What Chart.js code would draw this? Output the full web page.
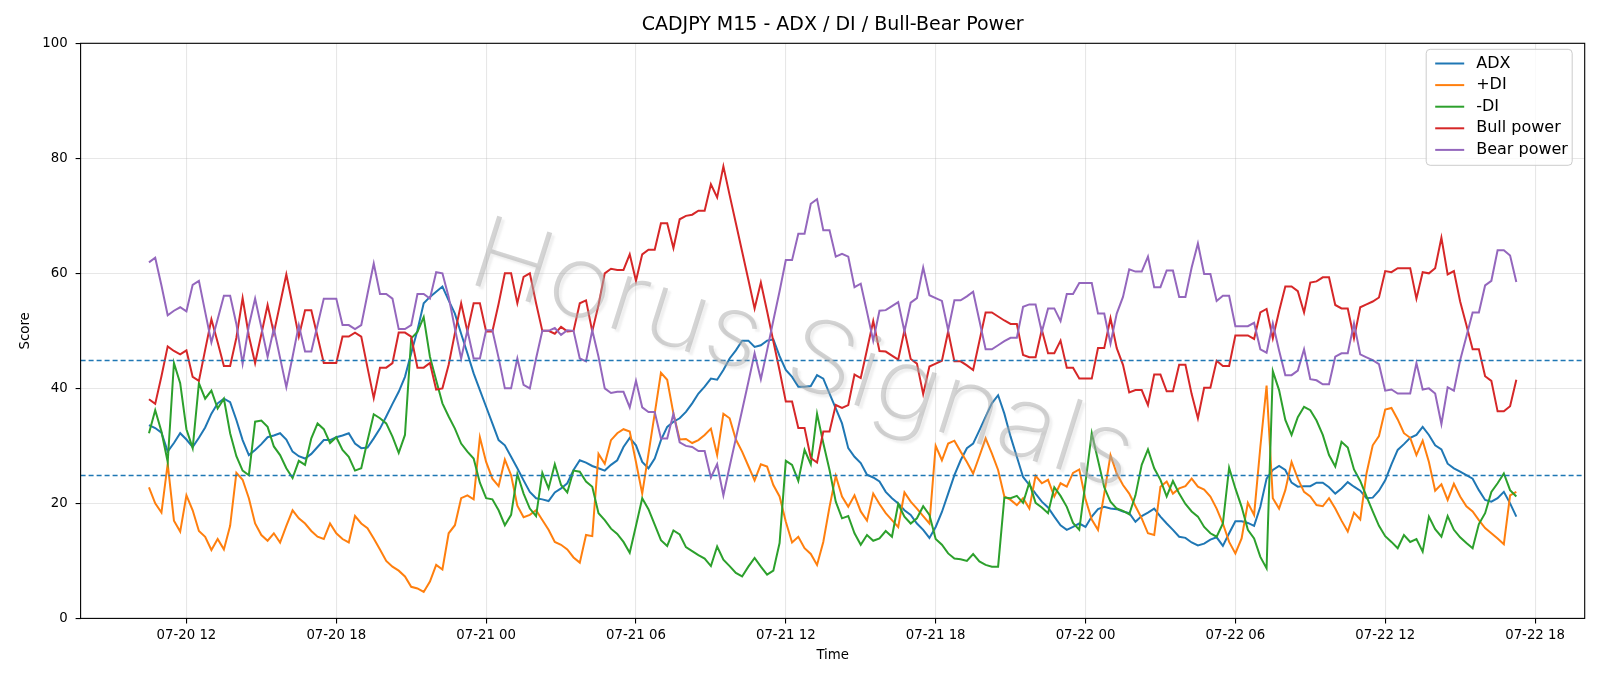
<!DOCTYPE html>
<html>
<head>
<meta charset="utf-8">
<title>CADJPY M15 - ADX / DI / Bull-Bear Power</title>
<script src="https://cdn.jsdelivr.net/npm/chart.js@4.4.1/dist/chart.umd.min.js"></script>
<style>
  html, body { margin: 0; padding: 0; background: #fff; }
  canvas { display: block; }
</style>
</head>
<body>
<canvas id="chart" width="1600" height="686"></canvas>
<script>
// first bar of the series and bar length (M15)
const startTime = '07-20 10:30';
const stepMinutes = 15;

const adx = [
  33.6, 33.1, 32.3, 29.0, 30.5, 32.2, 31.1, 29.8, 31.4, 33.2, 35.6, 37.4, 38.2, 37.6, 34.5, 31.0, 28.4, 29.3, 30.3,
  31.5, 31.8, 32.2, 31.1, 29.0, 28.2, 27.8, 28.6, 29.8, 31.0, 31.0, 31.5, 31.8, 32.2, 30.4, 29.6, 29.7, 31.3,
  33.0, 35.1, 37.3, 39.4, 42.0, 46.1, 50.1, 54.8, 55.9, 56.8, 57.7, 55.3, 53.0, 49.5, 46.1, 42.6, 39.7, 36.8, 33.9,
  31.0, 30.1, 28.1, 26.1, 24.0, 22.0, 20.9, 20.7, 20.4, 21.9, 22.6, 23.5, 25.8, 27.5, 27.1, 26.5, 26.1, 25.7, 26.7,
  27.5, 29.8, 31.4, 30.1, 27.2, 26.1, 27.8, 31.0, 33.3, 34.2, 34.8, 35.9, 37.4, 39.1, 40.3, 41.7, 41.5, 43.2,
  45.2, 46.6, 48.3, 48.3, 47.2, 47.5, 48.3, 48.5, 45.6, 43.2, 42.0, 40.3, 40.3, 40.4, 42.3, 41.7, 39.1, 36.5, 33.9,
  29.6, 28.1, 27.0, 25.0, 24.5, 23.8, 22.0, 20.9, 20.0, 18.8, 18.0, 16.5, 15.4, 14.0, 15.9, 18.5, 21.7, 24.9,
  27.5, 29.6, 30.4, 32.7, 35.1, 37.4, 38.8, 35.6, 31.6, 28.1, 24.6, 23.2, 21.7, 20.3, 19.3, 17.7, 16.2, 15.4, 15.9,
  16.5, 15.9, 17.7, 19.0, 19.4, 19.1, 19.0, 18.6, 18.3, 16.8, 17.8, 18.4, 19.1, 17.7, 16.5, 15.4, 14.2, 14.0, 13.2,
  12.7, 13.0, 13.7, 14.1, 12.6, 14.8, 16.9, 16.9, 16.6, 16.1, 19.4, 24.3, 25.8, 26.5, 25.8, 23.6, 22.9, 23.0,
  23.0, 23.6, 23.6, 22.8, 21.7, 22.6, 23.7, 22.9, 22.2, 20.9, 21.0, 22.2, 24.0, 26.8, 29.3, 30.3, 31.4, 31.9, 33.3,
  31.9, 30.1, 29.4, 26.9, 26.1, 25.5, 24.9, 24.3, 22.3, 20.6, 20.3, 20.9, 22.0, 20.0, 17.7
];

const plusDI = [
  22.8, 20.0, 18.4, 26.9, 17.0, 15.1, 21.4, 18.8, 15.2, 14.2, 11.9, 13.8, 12.0, 16.1, 25.3, 24.1, 20.9, 16.5, 14.5,
  13.5, 14.8, 13.2, 16.1, 18.8, 17.4, 16.5, 15.2, 14.2, 13.8, 16.5, 14.8, 13.8, 13.2, 17.8, 16.5, 15.7, 13.9,
  12.0, 10.0, 9.0, 8.3, 7.3, 5.5, 5.2, 4.6, 6.4, 9.3, 8.5, 14.8, 16.2, 20.9, 21.4, 20.7, 31.5, 27.2, 24.3,
  23.0, 27.6, 24.9, 19.6, 17.6, 18.0, 18.8, 17.1, 15.4, 13.3, 12.8, 12.0, 10.6, 9.7, 14.5, 14.3, 28.6, 26.9, 31.0,
  32.2, 32.9, 32.5, 27.2, 21.7, 28.6, 35.6, 42.7, 41.5, 35.6, 31.1, 31.2, 30.5, 31.0, 31.9, 33.0, 28.4, 35.6,
  34.8, 31.1, 29.0, 26.5, 24.0, 26.8, 26.4, 23.2, 21.2, 16.8, 13.2, 14.2, 12.2, 11.2, 9.3, 13.3, 19.4, 24.8, 21.2,
  19.4, 21.4, 18.6, 17.0, 21.7, 19.9, 18.3, 17.1, 15.9, 21.9, 20.3, 19.1, 17.8, 16.5, 30.0, 27.5, 30.4, 30.9,
  29.0, 27.2, 25.2, 28.2, 31.3, 28.7, 25.8, 21.2, 20.6, 19.7, 20.9, 19.1, 24.8, 23.5, 24.1, 21.2, 23.5, 22.9, 25.3,
  25.9, 20.7, 17.2, 15.4, 21.7, 28.4, 25.2, 23.2, 21.7, 19.5, 17.4, 14.8, 14.5, 22.9, 23.8, 21.7, 22.6, 23.0, 24.3,
  22.9, 22.4, 21.2, 19.1, 16.5, 13.3, 11.3, 13.9, 20.1, 18.0, 29.8, 40.5, 20.9, 19.1, 22.3, 27.2, 24.3, 22.0,
  21.2, 19.7, 19.5, 20.9, 19.1, 17.0, 15.1, 18.4, 17.2, 25.2, 30.1, 31.7, 36.3, 36.6, 34.6, 32.2, 31.4, 28.4, 30.9,
  27.2, 22.2, 23.3, 20.6, 23.4, 21.2, 19.5, 18.6, 17.1, 15.7, 14.8, 13.9, 12.9, 21.4, 22.0
];

const minusDI = [
  32.2, 36.2, 32.5, 27.2, 44.4, 40.9, 32.9, 29.6, 40.9, 38.2, 39.6, 36.5, 38.2, 32.2, 28.2, 25.7, 24.9, 34.2, 34.4,
  33.3, 29.9, 28.4, 26.1, 24.4, 27.4, 26.7, 31.3, 33.9, 32.9, 30.5, 31.5, 29.3, 28.1, 25.7, 26.1, 30.9, 35.5,
  34.8, 33.9, 31.6, 28.8, 31.9, 48.7, 49.8, 52.4, 45.5, 41.4, 37.4, 35.1, 33.0, 30.4, 29.0, 27.8, 23.6, 20.9, 20.7,
  18.8, 16.2, 18.0, 25.1, 21.7, 19.1, 17.8, 25.3, 22.6, 26.8, 23.2, 21.9, 25.7, 25.5, 23.8, 22.9, 18.3, 17.1, 15.6,
  14.7, 13.3, 11.4, 16.1, 20.9, 19.0, 16.3, 13.6, 12.6, 15.3, 14.6, 12.4, 11.7, 11.0, 10.4, 9.1, 12.5, 10.2,
  9.1, 7.9, 7.3, 9.0, 10.5, 9.0, 7.6, 8.3, 13.1, 27.4, 26.7, 23.9, 29.3, 26.8, 35.6, 30.5, 25.8, 20.3, 17.4,
  17.8, 14.8, 12.8, 14.5, 13.5, 13.9, 15.2, 14.2, 19.9, 17.7, 16.5, 17.4, 19.5, 18.0, 13.8, 12.8, 11.3, 10.4,
  10.3, 10.0, 11.2, 9.9, 9.3, 9.0, 9.0, 21.0, 20.9, 21.3, 20.1, 23.6, 20.1, 19.3, 18.3, 22.8, 21.3, 19.4, 16.6,
  15.4, 23.7, 32.2, 27.5, 22.8, 20.3, 19.1, 18.7, 18.1, 21.4, 26.7, 29.4, 26.1, 24.1, 21.2, 23.9, 21.7, 19.9, 18.6,
  17.7, 15.9, 14.8, 14.2, 16.5, 26.2, 22.6, 19.4, 15.4, 13.9, 10.7, 8.7, 43.0, 39.7, 34.5, 31.9, 35.0, 36.8,
  36.2, 34.4, 31.9, 28.4, 26.4, 30.7, 29.7, 25.9, 23.9, 21.2, 18.6, 16.1, 14.3, 13.3, 12.2, 14.5, 13.3, 13.8, 11.6,
  17.7, 15.5, 14.2, 17.8, 15.4, 14.1, 13.1, 12.2, 16.4, 18.3, 22.0, 23.5, 25.2, 22.3, 21.2
];

const bullPower = [
  38.1, 37.3, 42.1, 47.3, 46.5, 45.9, 46.6, 42.0, 41.3, 46.7, 52.0, 48.0, 43.9, 43.9, 48.8, 55.7, 49.1, 44.4, 49.4,
  54.5, 49.6, 54.7, 59.8, 54.5, 49.0, 53.6, 53.6, 49.0, 44.4, 44.4, 44.4, 49.0, 49.0, 49.7, 49.0, 43.6, 38.3,
  43.6, 43.6, 44.4, 49.7, 49.7, 49.0, 43.6, 43.6, 44.4, 39.8, 40.0, 44.1, 49.6, 54.8, 49.9, 54.8, 54.8, 49.9, 49.9,
  54.7, 60.0, 60.0, 54.8, 59.4, 60.0, 54.8, 50.0, 50.0, 49.5, 50.7, 49.9, 50.0, 54.8, 55.3, 49.9, 54.5, 60.0, 60.8,
  60.6, 60.6, 63.3, 58.7, 63.3, 64.1, 64.1, 68.7, 68.7, 64.4, 69.4, 70.0, 70.2, 70.9, 70.9, 75.5, 73.2, 78.6,
  73.6, 68.7, 63.8, 58.9, 53.9, 58.4, 53.4, 48.2, 43.1, 37.7, 37.7, 33.1, 33.1, 27.9, 27.1, 32.5, 32.5, 37.1, 36.6,
  37.1, 42.4, 41.8, 46.7, 51.7, 46.5, 46.4, 45.7, 45.0, 50.1, 45.1, 44.3, 39.0, 43.8, 44.3, 44.8, 49.9, 44.7,
  44.7, 44.0, 43.2, 48.2, 53.2, 53.2, 52.5, 51.8, 51.2, 51.2, 45.8, 45.4, 45.4, 50.2, 46.1, 46.1, 48.3, 43.6, 43.6,
  41.7, 41.7, 41.7, 47.0, 47.0, 52.2, 47.0, 44.1, 39.3, 39.7, 39.7, 37.1, 42.4, 42.4, 39.5, 39.5, 44.1, 44.1, 39.0,
  34.8, 40.1, 40.1, 44.8, 43.9, 43.9, 49.2, 49.2, 49.2, 48.6, 53.2, 53.8, 48.7, 53.4, 57.7, 57.7, 56.9, 53.2,
  58.4, 58.6, 59.3, 59.3, 54.5, 53.9, 53.9, 48.7, 54.1, 54.6, 55.1, 55.8, 60.4, 60.2, 60.9, 60.9, 60.9, 55.6, 60.2,
  60.0, 60.9, 66.2, 59.8, 60.4, 55.1, 51.0, 46.8, 46.8, 42.1, 41.3, 36.0, 36.0, 36.9, 41.5
];

const bearPower = [
  61.9, 62.7, 57.9, 52.7, 53.5, 54.1, 53.4, 58.0, 58.7, 53.3, 48.0, 52.0, 56.1, 56.1, 51.2, 44.3, 50.9, 55.6, 50.6,
  45.5, 50.4, 45.3, 40.2, 45.5, 51.0, 46.4, 46.4, 51.0, 55.6, 55.6, 55.6, 51.0, 51.0, 50.3, 51.0, 56.4, 61.7,
  56.4, 56.4, 55.6, 50.3, 50.3, 51.0, 56.4, 56.4, 55.6, 60.2, 60.0, 55.9, 50.4, 45.2, 50.1, 45.2, 45.2, 50.1, 50.1,
  45.3, 40.0, 40.0, 45.2, 40.6, 40.0, 45.2, 50.0, 50.0, 50.5, 49.3, 50.1, 50.0, 45.2, 44.7, 50.1, 45.5, 40.0, 39.2,
  39.4, 39.4, 36.7, 41.3, 36.7, 35.9, 35.9, 31.3, 31.3, 35.6, 30.6, 30.0, 29.8, 29.1, 29.1, 24.5, 26.8, 21.4,
  26.4, 31.3, 36.2, 41.1, 46.1, 41.6, 46.6, 51.8, 56.9, 62.3, 62.3, 66.9, 66.9, 72.1, 72.9, 67.5, 67.5, 62.9, 63.4,
  62.9, 57.6, 58.2, 53.3, 48.3, 53.5, 53.6, 54.3, 55.0, 49.9, 54.9, 55.7, 61.0, 56.2, 55.7, 55.2, 50.1, 55.3,
  55.3, 56.0, 56.8, 51.8, 46.8, 46.8, 47.5, 48.2, 48.8, 48.8, 54.2, 54.6, 54.6, 49.8, 53.9, 53.9, 51.7, 56.4, 56.4,
  58.3, 58.3, 58.3, 53.0, 53.0, 47.8, 53.0, 55.9, 60.7, 60.3, 60.3, 62.9, 57.6, 57.6, 60.5, 60.5, 55.9, 55.9, 61.0,
  65.2, 59.9, 59.9, 55.2, 56.1, 56.1, 50.8, 50.8, 50.8, 51.4, 46.8, 46.2, 51.3, 46.6, 42.3, 42.3, 43.1, 46.8,
  41.6, 41.4, 40.7, 40.7, 45.5, 46.1, 46.1, 51.3, 45.9, 45.4, 44.9, 44.2, 39.6, 39.8, 39.1, 39.1, 39.1, 44.4, 39.8,
  40.0, 39.1, 33.8, 40.2, 39.6, 44.9, 49.0, 53.2, 53.2, 57.9, 58.7, 64.0, 64.0, 63.1, 58.5
];

const seriesNames = ['ADX', '+DI', '-DI', 'Bull power', 'Bear power'];
const seriesColors = ['#1f77b4', '#ff7f0e', '#2ca02c', '#d62728', '#9467bd'];
const levels = [45, 25];
const tickLabels = ['07-20 12', '07-20 18', '07-21 00', '07-21 06', '07-21 12', '07-21 18', '07-22 00', '07-22 06', '07-22 12', '07-22 18'];
const yTicks = [0, 20, 40, 60, 80, 100];
const watermark = 'Horus Signals';

const FONT = 'DejaVu Sans';

// "MM-DD HH[:MM]" -> hours counted from 07-20 00:00
function toHours(s) {
  const [md, hm] = s.split(' ');
  const day = parseInt(md.split('-')[1], 10);
  const [h, m] = hm.split(':');
  return (day - 20) * 24 + parseInt(h, 10) + (m ? parseInt(m, 10) / 60 : 0);
}

const t0 = toHours(startTime);
const times = adx.map((_, i) => t0 + i * stepMinutes / 60);
const span = times[times.length - 1] - times[0];
const xMin = times[0] - 0.05 * span;
const xMax = times[times.length - 1] + 0.05 * span;
const tickHours = tickLabels.map(toHours);

const allSeries = [adx, plusDI, minusDI, bullPower, bearPower];
const datasets = allSeries.map((vals, k) => ({
  label: seriesNames[k],
  data: vals.map((v, i) => ({ x: times[i], y: v })),
  borderColor: seriesColors[k],
  backgroundColor: seriesColors[k],
  borderWidth: 2,
  pointRadius: 0,
  tension: 0,
  fill: false,
  order: allSeries.length - k
}));

const decor = {
  id: 'decor',
  beforeDraw(chart) {
    const ctx = chart.ctx;
    ctx.save();
    ctx.fillStyle = '#fff';
    ctx.fillRect(0, 0, chart.width, chart.height);
    ctx.restore();
  },
  afterDatasetsDraw(chart) {
    const { ctx, chartArea: a, scales: { y } } = chart;
    ctx.save();
    ctx.beginPath();
    ctx.rect(a.left, a.top, a.right - a.left, a.bottom - a.top);
    ctx.clip();

    // reference levels
    ctx.strokeStyle = '#1f77b4';
    ctx.lineWidth = 1.4;
    ctx.setLineDash([5, 3]);
    levels.forEach(v => {
      const py = Math.round(y.getPixelForValue(v)) + 0.5;
      ctx.beginPath();
      ctx.moveTo(a.left, py);
      ctx.lineTo(a.right, py);
      ctx.stroke();
    });
    ctx.setLineDash([]);

    // watermark, thin light letters with a soft offset shadow
    ctx.translate(a.left + (a.right - a.left) * 0.48, a.top + (a.bottom - a.top) * 0.545);
    ctx.rotate(17.5 * Math.PI / 180);
    ctx.font = '200 100px Inter, "' + FONT + '"';
    const w = ctx.measureText(watermark).width;
    ctx.scale(690 / w, 1);
    ctx.textAlign = 'center';
    ctx.textBaseline = 'middle';
    ctx.shadowColor = 'rgba(170,170,170,0.35)';
    ctx.shadowOffsetX = 3;
    ctx.shadowOffsetY = 3;
    ctx.shadowBlur = 2;
    ctx.fillStyle = 'rgba(170,170,170,0.5)';
    ctx.fillText(watermark, 0, 0);
    ctx.restore();

    // frame
    ctx.save();
    ctx.strokeStyle = '#000';
    ctx.lineWidth = 1.1;
    ctx.strokeRect(a.left, a.top, a.right - a.left, a.bottom - a.top);

    // legend
    const lw = 146, lh = 116;
    const lx = a.right - 12.5 - lw, ly = a.top + 6;
    ctx.beginPath();
    ctx.roundRect(lx, ly, lw, lh, 4);
    ctx.fillStyle = 'rgba(255,255,255,0.8)';
    ctx.fill();
    ctx.strokeStyle = '#cccccc';
    ctx.lineWidth = 1;
    ctx.stroke();
    ctx.font = '16px "' + FONT + '"';
    ctx.textBaseline = 'middle';
    ctx.textAlign = 'left';
    chart.data.datasets.forEach((ds, k) => {
      const ry = ly + 14.2 + k * 21.6;
      ctx.strokeStyle = ds.borderColor;
      ctx.lineWidth = 2;
      ctx.beginPath();
      ctx.moveTo(lx + 9, ry);
      ctx.lineTo(lx + 38, ry);
      ctx.stroke();
      ctx.fillStyle = '#000';
      ctx.fillText(ds.label, lx + 50, ry);
    });
    ctx.restore();
  }
};

new Chart(document.getElementById('chart'), {
  type: 'line',
  data: { datasets },
  options: {
    responsive: false,
    animation: false,
    devicePixelRatio: 1,
    layout: { padding: { left: 0, right: 15.3, top: 0, bottom: 0 } },
    plugins: {
      legend: { display: false },
      tooltip: { enabled: false },
      title: {
        display: true,
        fullSize: false,
        text: 'CADJPY M15 - ADX / DI / Bull-Bear Power',
        color: '#000',
        font: { family: FONT, size: 19, weight: 'normal' },
        padding: { top: 13.5, bottom: 7 }
      }
    },
    scales: {
      x: {
        type: 'linear',
        min: xMin,
        max: xMax,
        afterBuildTicks: (scale) => { scale.ticks = tickHours.map(v => ({ value: v })); },
        afterFit: (scale) => { scale.height = 67.6; },
        ticks: {
          autoSkip: false,
          maxRotation: 0,
          padding: 4,
          color: '#000',
          font: { family: FONT, size: 13.3 },
          callback: (v) => tickLabels[tickHours.indexOf(v)]
        },
        grid: { color: 'rgba(176,176,176,0.3)', lineWidth: 1.1, tickColor: '#000', tickLength: 5, tickWidth: 1.1 },
        border: { display: false },
        title: { display: true, text: 'Time', color: '#000', font: { family: FONT, size: 13.3 }, padding: { top: 0, bottom: 22 } }
      },
      y: {
        min: 0,
        max: 100,
        afterBuildTicks: (scale) => { scale.ticks = yTicks.map(v => ({ value: v })); },
        afterFit: (scale) => { scale.width = 80.6; },
        ticks: { padding: 8, color: '#000', font: { family: FONT, size: 13.3 } },
        grid: { color: 'rgba(176,176,176,0.3)', lineWidth: 1.1, tickColor: '#000', tickLength: 5, tickWidth: 1.1 },
        border: { display: false },
        title: { display: true, text: 'Score', color: '#000', font: { family: FONT, size: 13.3 }, padding: { top: 18, bottom: 0 } }
      }
    }
  },
  plugins: [decor]
});
</script>
</body>
</html>
